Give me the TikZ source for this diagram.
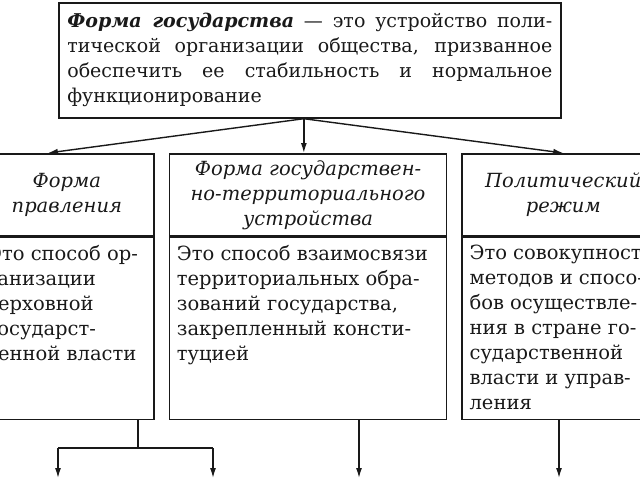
\documentclass[tikz,border=0pt]{standalone}
\usepackage{fontspec}
\setmainfont{DejaVu Serif}
\usetikzlibrary{arrows,arrows.meta,positioning}

\definecolor{ink}{gray}{0.1}

\begin{document}
\begin{tikzpicture}[x=1pt, y=-1pt, node distance = 0pt and 14pt,
    >={Latex[length=10pt,width=6pt]},
    every node/.style={font=\fontsize{19}{25}\selectfont, text=ink},
    defbox/.style={rectangle,draw=ink,line width=1.7pt,inner xsep=8.5pt,text width=485pt,minimum height=115pt,align=justify},
    headcell/.style={rectangle,draw=ink,line width=1.7pt,minimum height=82pt,align=center,font=\fontsize{19.5}{25}\selectfont\itshape},
    bodycell/.style={rectangle,draw=ink,line width=1.7pt,minimum height=182pt},
    bodytext/.style={align=left,inner xsep=8pt,inner ysep=8pt,anchor=north west,font=\fontsize{19.5}{25}\selectfont},
    link/.style={draw=ink,line width=1.4pt},
   ]
    \useasboundingbox (0,0) rectangle (640,480);
    \clip (0,0) rectangle (640,480);

    % definition on top
    \node (gosform) [defbox, anchor=north west] at (58,2) {{\bfseries\itshape Форма государства} — это устройство поли-\linebreak тической организации общества, призванное\linebreak обеспечить ее стабильность и нормальное\linebreak функционирование};
    \coordinate (split) at ([xshift=-6pt]gosform.south);

    % three columns
    \node (pravl)  [headcell, minimum width=174pt, anchor=north west] at (-21,153) {Форма\\правления};
    \node (ustr)   [headcell, minimum width=277pt, right=of pravl] {Форма государствен-\\но-территориального\\устройства};
    \node (rezhim) [headcell, minimum width=202pt, right=of ustr] {Политический\\режим};

    \node (pravlbox)  [bodycell, minimum width=174pt, below=of pravl] {};
    \node (ustrbox)   [bodycell, minimum width=277pt, below=of ustr] {};
    \node (rezhimbox) [bodycell, minimum width=202pt, below=of rezhim] {};

    \node (pravltxt)  [bodytext] at (pravlbox.north west) {Это способ ор-\\ганизации\\верховной\\государст-\\венной власти};
    \node (ustrtxt)   [bodytext] at (ustrbox.north west) {Это способ взаимосвязи\\территориальных обра-\\зований государства,\\закрепленный консти-\\туцией};
    \node (rezhimtxt) [bodytext] at (rezhimbox.north west) {Это совокупность\\методов и спосо-\\бов осуществле-\\ния в стране го-\\сударственной\\власти и управ-\\ления};

    % arrows from the definition
    \draw[link,->] (split) -- ([xshift=-19pt]pravl.north);
    \draw[link,->] (split) -- (split |- ustr.north);
    \draw[link,->] (split) -- (rezhim.north);

    % arrows leaving the picture
    \coordinate (fork)  at (138,448);
    \coordinate (forkL) at (58,448);
    \coordinate (forkR) at (213,448);
    \coordinate (endL)  at (58,478);
    \coordinate (endR)  at (213,478);
    \coordinate (ustrend)   at (359,478);
    \coordinate (rezhimend) at (559,478);

    \draw[link] (pravlbox.south -| fork) -- (fork);
    \draw[link] (forkL) -- (forkR);
    \draw[link,->] (forkL) -- (endL);
    \draw[link,->] (forkR) -- (endR);
    \draw[link,->] (ustrbox.south -| ustrend) -- (ustrend);
    \draw[link,->] (rezhimbox.south -| rezhimend) -- (rezhimend);
\end{tikzpicture}
\end{document}
